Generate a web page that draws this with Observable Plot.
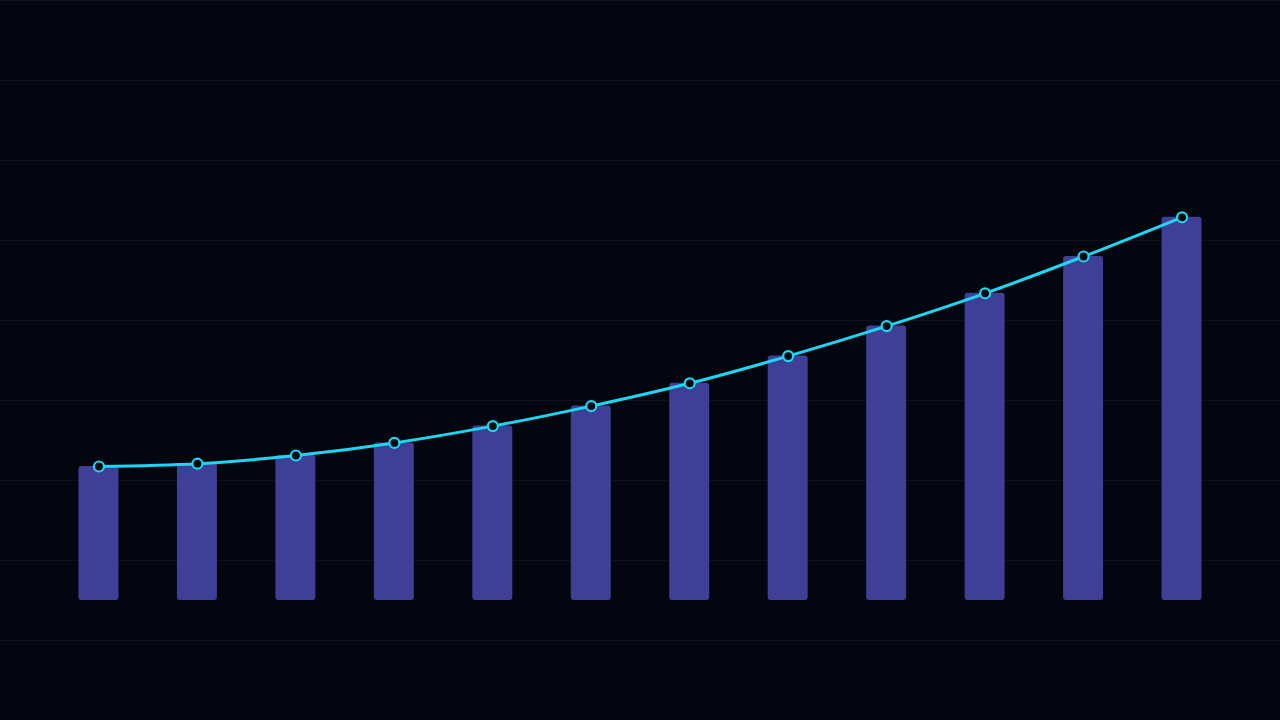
<!DOCTYPE html>
<html>
<head>
<meta charset="utf-8">
<script src="https://cdn.jsdelivr.net/npm/d3@7"></script>
<script src="https://cdn.jsdelivr.net/npm/@observablehq/plot@0.6"></script>
<style>
  html, body { margin: 0; padding: 0; background: #03060f; overflow: hidden; }
  #chart svg { display: block; }
</style>
</head>
<body>
<div id="chart"></div>
<script>
// Categories (periods) and series values
const periods = ["P1","P2","P3","P4","P5","P6","P7","P8","P9","P10","P11","P12"];
const values = [33.5, 34.2, 36.25, 39.4, 43.6, 48.6, 54.3, 61.1, 68.6, 76.8, 86.0, 95.8];
const gridTicks = [-30, -10, 10, 30, 50, 70, 90, 110, 130, 150];

const data = periods.map((p, i) => ({period: p, value: values[i]}));

const chart = Plot.plot({
  width: 1280,
  height: 720,
  marginTop: 0,
  marginBottom: 120,
  marginLeft: 0,
  marginRight: 0,
  style: {background: "#03060f", overflow: "visible"},
  x: {domain: periods, paddingInner: 0.594, paddingOuter: 0.797, round: false, axis: null},
  y: {domain: [0, 150], axis: null},
  marks: [
    Plot.ruleY(gridTicks, {stroke: "#0d1220", strokeWidth: 1.2}),
    Plot.barY(data, {x: "period", y: "value", fill: "#3f3f97", rx: 3}),
    Plot.lineY(data, {x: "period", y: "value", stroke: "#1fd6f0", strokeWidth: 3, curve: "monotone-x"}),
    Plot.dot(data, {x: "period", y: "value", r: 5, fill: "#03060f", stroke: "#1fd6f0", strokeWidth: 2.2})
  ]
});
document.getElementById("chart").appendChild(chart);
</script>
</body>
</html>
